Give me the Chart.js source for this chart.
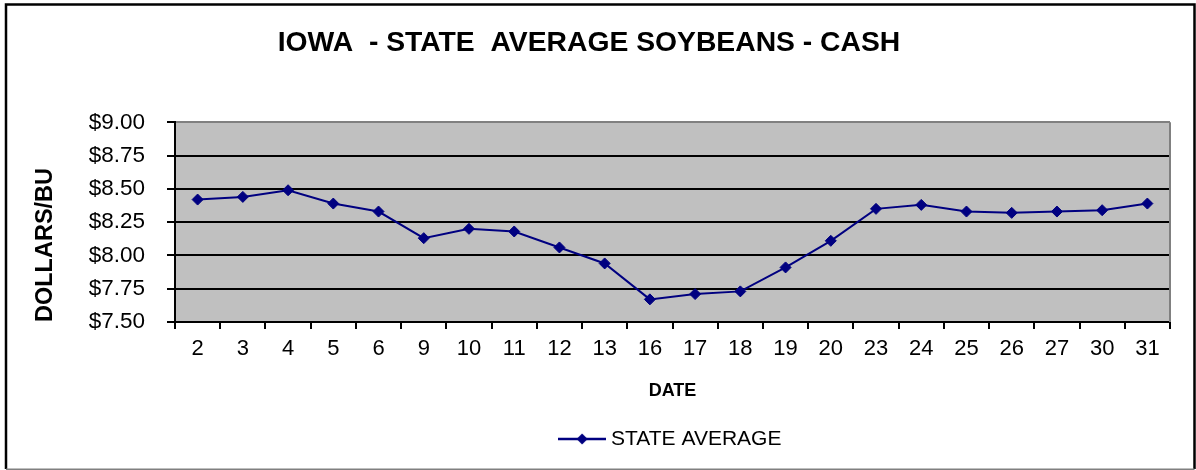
<!DOCTYPE html>
<html>
<head>
<meta charset="utf-8">
<script src="https://cdn.jsdelivr.net/npm/chart.js@4.4.1/dist/chart.umd.min.js"></script>
<style>
html,body{margin:0;padding:0;background:#fff;}
#c{display:block;}
</style>
</head>
<body>
<canvas id="c" width="1196" height="470"></canvas>
<script>
const categories = ['2','3','4','5','6','9','10','11','12','13','16','17','18','19','20','23','24','25','26','27','30','31'];
const stateAverage = [8.42, 8.44, 8.49, 8.39, 8.33, 8.13, 8.20, 8.18, 8.06, 7.94, 7.67, 7.71, 7.73, 7.91, 8.11, 8.35, 8.38, 8.33, 8.32, 8.33, 8.34, 8.39];
const yTickValues = [7.50, 7.75, 8.00, 8.25, 8.50, 8.75, 9.00];
const titleText = 'IOWA  - STATE  AVERAGE SOYBEANS - CASH';
const seriesName = 'STATE AVERAGE';
const xTitle = 'DATE';
const yTitle = 'DOLLARS/BU';

const FONT = '"Liberation Sans", Arial, sans-serif';
const NAVY = '#000080';

// legend marker: line with diamond
const marker = document.createElement('canvas');
marker.width = 48; marker.height = 14;
(function(){
  const m = marker.getContext('2d');
  m.strokeStyle = NAVY; m.lineWidth = 2.5;
  m.beginPath(); m.moveTo(0,7); m.lineTo(48,7); m.stroke();
  m.fillStyle = NAVY;
  m.beginPath(); m.moveTo(24,1.5); m.lineTo(29.5,7); m.lineTo(24,12.5); m.lineTo(18.5,7); m.closePath(); m.fill();
})();

const decor = {
  id: 'decor',
  beforeDraw(chart) {
    const {ctx, chartArea: a} = chart;
    ctx.save();
    ctx.fillStyle = '#C0C0C0';
    ctx.fillRect(a.left, a.top, a.right - a.left, a.bottom - a.top);
    ctx.restore();
  },
  beforeDatasetsDraw(chart) {
    const {ctx, chartArea: a} = chart;
    ctx.save();
    ctx.strokeStyle = '#808080'; ctx.lineWidth = 2;
    ctx.beginPath(); ctx.moveTo(a.right, a.top); ctx.lineTo(a.right, a.bottom); ctx.stroke();
    ctx.restore();
  },
  afterDraw(chart) {
    const ctx = chart.ctx;
    ctx.save();
    ctx.strokeStyle = '#000'; ctx.lineWidth = 2.5;
    ctx.beginPath();
    ctx.moveTo(6, 469); ctx.lineTo(6, 4.5); ctx.lineTo(1194.5, 4.5); ctx.lineTo(1194.5, 469);
    ctx.stroke();
    ctx.strokeStyle = '#808080'; ctx.lineWidth = 1.5;
    ctx.beginPath(); ctx.moveTo(6, 469.2); ctx.lineTo(1194.5, 469.2); ctx.stroke();
    ctx.restore();
  }
};

new Chart(document.getElementById('c'), {
  type: 'line',
  data: {
    labels: categories,
    datasets: [{
      label: seriesName,
      data: stateAverage,
      borderColor: NAVY,
      backgroundColor: NAVY,
      borderWidth: 2,
      tension: 0,
      pointStyle: 'rectRot',
      pointRadius: 5.5,
      pointBorderWidth: 1,
      pointBackgroundColor: NAVY,
      pointBorderColor: NAVY
    }]
  },
  options: {
    responsive: false,
    animation: false,
    events: [],
    layout: { padding: { left: 8, right: 26, top: 4, bottom: 10.5 } },
    scales: {
      x: {
        type: 'category',
        offset: true,
        afterFit(s) { s.height = 96.5; },
        grid: { display: true, drawOnChartArea: false, drawTicks: true, tickLength: 7, offset: true, color: '#000', lineWidth: 2 },
        border: { display: true, color: '#000', width: 2 },
        ticks: { color: '#000', font: { family: FONT, size: 22 }, padding: 7, maxRotation: 0, autoSkip: false },
        title: { display: true, text: xTitle, color: '#000', font: { family: FONT, size: 18, weight: 'bold' }, padding: { top: 0, bottom: 16.7 } }
      },
      y: {
        min: 7.5, max: 9,
        afterFit(s) { s.width = 167; },
        afterBuildTicks(s) { s.ticks = yTickValues.map(v => ({ value: v })); },
        grid: {
          color: c => (c.tick && c.tick.value === 9) ? '#808080' : '#000',
          tickColor: '#000',
          lineWidth: 2,
          tickLength: 8,
          drawTicks: true
        },
        border: { display: true, color: '#000', width: 2 },
        ticks: { color: '#000', font: { family: FONT, size: 22.5 }, padding: 22, callback: v => '$' + Number(v).toFixed(2) },
        title: { display: true, text: yTitle, align: 'start', color: '#000', font: { family: FONT, size: 23.5, weight: 'bold' }, padding: { top: 23, bottom: 0 } }
      }
    },
    plugins: {
      title: {
        display: true, text: titleText, color: '#000',
        font: { family: FONT, size: 28.3, weight: 'bold' },
        padding: { top: 22, bottom: 62.4 }
      },
      legend: {
        display: true, position: 'bottom', fullSize: false,
        labels: {
          color: '#000', font: { family: FONT, size: 21 },
          usePointStyle: true, pointStyle: marker, pointStyleWidth: 37, padding: 10
        }
      },
      tooltip: { enabled: false }
    }
  },
  plugins: [decor]
});
</script>
</body>
</html>
